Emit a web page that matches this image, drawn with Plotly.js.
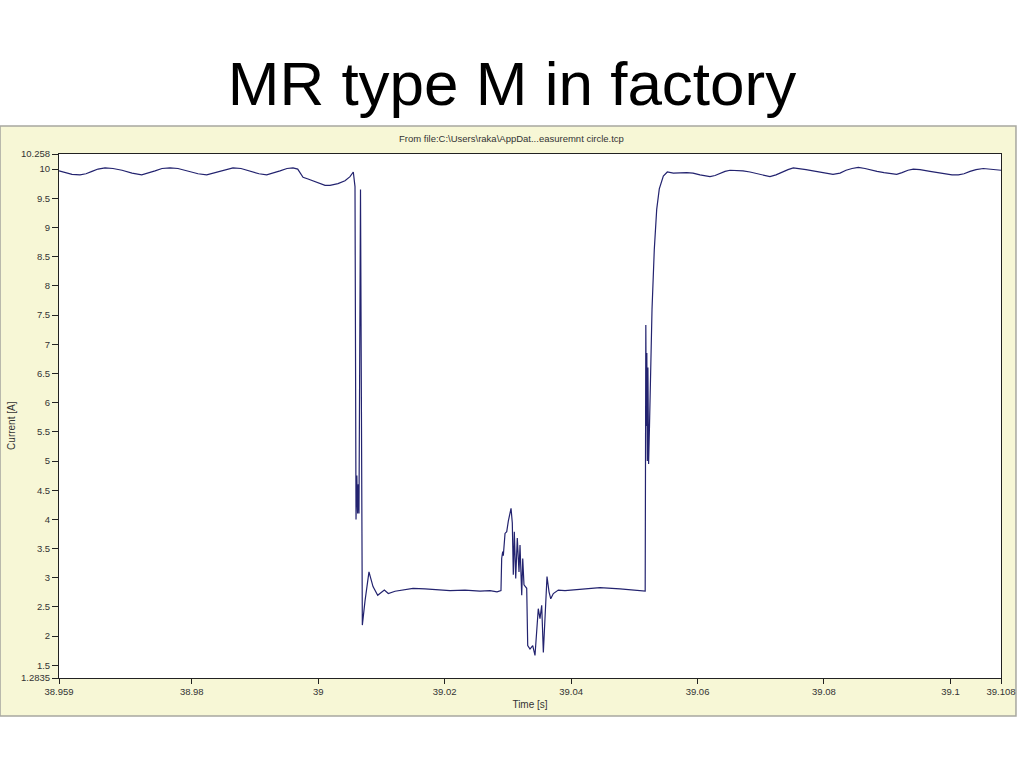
<!DOCTYPE html>
<html>
<head>
<meta charset="utf-8">
<script src="https://cdn.plot.ly/plotly-3.0.1.min.js"></script>
<style>html,body{margin:0;padding:0;background:#fff;}#chart{width:1024px;height:768px;}</style>
</head>
<body>
<div id="chart"></div>
<script>
// Time [s]
const timeS = [
  38.95900, 38.95995, 38.96106, 38.96232, 38.96327, 38.96422, 38.96517, 38.96628, 38.96754, 38.96897,
  38.97055, 38.97208, 38.97308, 38.97419, 38.97529, 38.97656, 38.97782, 38.97941, 38.98099, 38.98236,
  38.98336, 38.98447, 38.98542, 38.98652, 38.98779, 38.98921, 38.99064, 38.99185, 38.99285, 38.99396,
  38.99506, 38.99601, 38.99676, 38.99760, 38.99839, 38.99997, 39.00108, 39.00187, 39.00313, 39.00424,
  39.00503, 39.00555,
  39.00582, 39.00590, 39.00598, 39.00611, 39.00623, 39.00634, 39.00645, 39.00669, 39.00677, 39.00683,
  39.00690, 39.00698, 39.00740, 39.00803, 39.00867, 39.00941, 39.01046, 39.01109, 39.01215, 39.01373,
  39.01500, 39.01689, 39.01847, 39.02085, 39.02322, 39.02559, 39.02717, 39.02828, 39.02891,
  39.02902, 39.02918, 39.02928, 39.02955, 39.02982, 39.03007, 39.03050, 39.03070, 39.03086, 39.03102,
  39.03124, 39.03149, 39.03176, 39.03192, 39.03219, 39.03235, 39.03255, 39.03298, 39.03314, 39.03350,
  39.03393, 39.03429, 39.03466, 39.03481, 39.03508, 39.03535, 39.03561, 39.03576, 39.03598, 39.03619,
  39.03651, 39.03678, 39.03719, 39.03798, 39.03904, 39.04141, 39.04457, 39.04774, 39.05011, 39.05172,
  39.05182, 39.05190, 39.05198, 39.05206, 39.05215, 39.05226, 39.05240, 39.05256, 39.05280, 39.05316,
  39.05354, 39.05395, 39.05459, 39.05522, 39.05617, 39.05829,
  39.05928, 39.06039, 39.06118, 39.06197, 39.06277, 39.06356, 39.06435, 39.06514, 39.06624, 39.06719,
  39.06830, 39.06941, 39.07052, 39.07146, 39.07241, 39.07336, 39.07431, 39.07515, 39.07621, 39.07716,
  39.07827, 39.07937, 39.08048, 39.08143, 39.08254, 39.08349, 39.08444, 39.08543, 39.08649, 39.08744,
  39.08839, 39.08950, 39.09045, 39.09150, 39.09234, 39.09329, 39.09413, 39.09519, 39.09677, 39.09804,
  39.09930, 39.10025, 39.10125, 39.10215, 39.10310, 39.10405, 39.10520, 39.10626, 39.10721, 39.10800
];
// Current [A]
const currentA = [
  9.97, 9.94, 9.91, 9.90, 9.92, 9.96, 10.00, 10.02, 10.01, 9.98,
  9.93, 9.90, 9.93, 9.97, 10.01, 10.02, 10.01, 9.97, 9.92, 9.90,
  9.93, 9.97, 10.00, 10.02, 10.01, 9.97, 9.92, 9.90, 9.93, 9.97,
  10.01, 10.02, 10.00, 9.86, 9.83, 9.76, 9.72, 9.72, 9.75, 9.80,
  9.87, 9.95,
  9.70, 6.90, 4.00, 4.75, 4.10, 4.60, 4.10, 9.65, 7.00, 8.20,
  4.10, 2.19, 2.60, 3.10, 2.85, 2.70, 2.79, 2.73, 2.77, 2.80,
  2.82, 2.81, 2.80, 2.78, 2.79, 2.77, 2.78, 2.76, 2.78,
  3.33, 3.45, 3.38, 3.76, 3.79, 3.97, 4.19, 3.94, 3.05, 3.79,
  2.99, 3.68, 3.10, 3.56, 2.70, 3.33, 2.88, 2.82, 1.84, 1.78,
  1.84, 1.67, 2.24, 2.47, 2.30, 2.53, 1.72, 2.07, 2.76, 3.02,
  2.76, 2.64, 2.73, 2.79, 2.78, 2.80, 2.83, 2.81, 2.79, 2.77,
  7.33, 5.60, 6.85, 5.00, 6.60, 4.95, 5.60, 6.60, 7.60, 8.62,
  9.31, 9.66, 9.88, 9.95, 9.93, 9.94,
  9.93, 9.90, 9.88, 9.87, 9.89, 9.93, 9.96, 9.98, 9.98, 9.97,
  9.95, 9.92, 9.89, 9.87, 9.90, 9.95, 9.99, 10.02, 10.01, 9.99,
  9.97, 9.95, 9.92, 9.91, 9.93, 9.98, 10.01, 10.03, 10.01, 9.98,
  9.96, 9.94, 9.92, 9.91, 9.94, 9.98, 10.00, 9.99, 9.96, 9.94,
  9.92, 9.90, 9.90, 9.92, 9.96, 9.99, 10.01, 10.00, 9.99, 9.98
];
const xTickVals = [38.959, 38.98, 39, 39.02, 39.04, 39.06, 39.08, 39.1, 39.108];
const xTickText = ["38.959", "38.98", "39", "39.02", "39.04", "39.06", "39.08", "39.1", "39.108"];
const yTickVals = [1.2835, 1.5, 2, 2.5, 3, 3.5, 4, 4.5, 5, 5.5, 6, 6.5, 7, 7.5, 8, 8.5, 9, 9.5, 10, 10.258];
const yTickText = ["1.2835", "1.5", "2", "2.5", "3", "3.5", "4", "4.5", "5", "5.5", "6", "6.5", "7", "7.5", "8", "8.5", "9", "9.5", "10", "10.258"];
const xRange = [38.959, 39.108];
const yRange = [1.2835, 10.258];

const fontFam = "Liberation Sans, Arial, sans-serif";
const tickFont = {family: fontFam, size: 9.5, color: "#333333"};

const trace = {
  x: timeS, y: currentA, type: "scatter", mode: "lines",
  line: {color: "#23236f", width: 1.2},
  hoverinfo: "skip", showlegend: false
};

const layout = {
  width: 1024, height: 768,
  margin: {l: 59, r: 23, t: 154, b: 90, pad: 0},
  paper_bgcolor: "#ffffff",
  plot_bgcolor: "#ffffff",
  title: {
    text: "MR type M in factory",
    font: {family: fontFam, size: 62, color: "#000000"},
    x: 0.5, xanchor: "center", xref: "container",
    y: 0.892, yanchor: "middle", yref: "container"
  },
  xaxis: {
    range: xRange, tickmode: "array", tickvals: xTickVals, ticktext: xTickText,
    ticks: "outside", ticklen: 5, tickcolor: "#222", tickwidth: 1,
    showline: true, linecolor: "#222", linewidth: 1, mirror: true,
    showgrid: false, zeroline: false, tickfont: tickFont, tickangle: 0,
    title: {text: "Time [s]", font: {family: fontFam, size: 10, color: "#333"}, standoff: 4}
  },
  yaxis: {
    range: yRange, tickmode: "array", tickvals: yTickVals, ticktext: yTickText,
    ticks: "outside", ticklen: 6, tickcolor: "#222", tickwidth: 1,
    showline: true, linecolor: "#222", linewidth: 1, mirror: true,
    showgrid: false, zeroline: false, tickfont: tickFont
  },
  shapes: [{
    type: "rect", xref: "paper", yref: "paper", layer: "below",
    x0: -0.0626, x1: 1.0159, y0: -0.0725, y1: 1.0534,
    fillcolor: "#f7f7d6", line: {color: "#a8a8a0", width: 1.5}
  }, {
    type: "rect", xref: "paper", yref: "paper", layer: "below",
    x0: 0, x1: 1, y0: 0, y1: 1,
    fillcolor: "#ffffff", line: {width: 0}
  }],
  annotations: [{
    text: "From file:C:\\Users\\raka\\AppDat...easuremnt circle.tcp",
    xref: "paper", yref: "paper", x: 0.48, y: 1.0305,
    xanchor: "center", yanchor: "middle", showarrow: false,
    font: {family: fontFam, size: 9.5, color: "#333"}
  }, {
    text: "Current [A]",
    xref: "paper", yref: "paper", x: -0.0499, y: 0.483,
    xanchor: "center", yanchor: "middle", showarrow: false, textangle: -90,
    font: {family: fontFam, size: 10, color: "#333"}
  }]
};

Plotly.newPlot("chart", [trace], layout, {displayModeBar: false, staticPlot: true});
</script>
</body>
</html>
